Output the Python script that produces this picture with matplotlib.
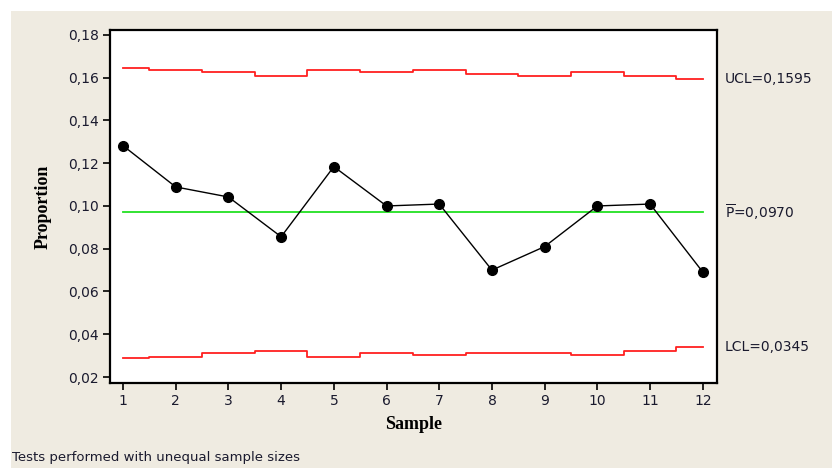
import matplotlib.pyplot as plt
import matplotlib.patches as mpatches
from matplotlib.ticker import FuncFormatter, MultipleLocator

samples = list(range(1, 13))
proportion = [0.1282, 0.1089, 0.1042, 0.0856, 0.1184, 0.1000,
              0.1009, 0.0700, 0.0810, 0.1000, 0.1009, 0.0691]
ucl = [0.1644, 0.1636, 0.1628, 0.1608, 0.1636, 0.1628,
       0.1636, 0.1618, 0.1608, 0.1628, 0.1608, 0.1593]
lcl = [0.0287, 0.0295, 0.0311, 0.0322, 0.0295, 0.0311,
       0.0303, 0.0313, 0.0313, 0.0303, 0.0323, 0.0339]
p_bar = 0.0970
ucl_label = "UCL=0,1595"
lcl_label = "LCL=0,0345"
p_label = r"$\overline{\mathrm{P}}$=0,0970"

bg = "#efebe1"
fig = plt.figure(figsize=(8.32, 4.68), dpi=100, facecolor="white")
fig.patches.append(mpatches.Rectangle((11 / 832, 0), 1, 1 - 11 / 468,
                                      transform=fig.transFigure,
                                      facecolor=bg, edgecolor="none", zorder=-10))

ax = fig.add_axes([110 / 832, 1 - 383 / 468, 607 / 832, 353 / 468])
ax.set_facecolor("white")

ax.plot(samples, ucl, color="#ff2020", lw=1.3, drawstyle="steps-mid")
ax.plot(samples, lcl, color="#ff2020", lw=1.3, drawstyle="steps-mid")
ax.plot([samples[0], samples[-1]], [p_bar, p_bar], color="#22e022", lw=1.3)
ax.plot(samples, proportion, color="black", lw=1, marker="o", ms=7)

ax.set_xlim(0.753, 12.27)
ax.set_ylim(0.0172, 0.1823)
ax.set_xticks(samples)
ax.yaxis.set_major_locator(MultipleLocator(0.02))
ax.yaxis.set_major_formatter(FuncFormatter(lambda v, p: f"{v:.2f}".replace(".", ",")))

for s in ax.spines.values():
    s.set_linewidth(1.6)
ax.tick_params(direction="out", length=5, width=1.2, labelsize=10,
               labelcolor="#1a1a2e", pad=3)

ax.set_xlabel("Sample", family="Liberation Serif", fontweight="bold", fontsize=13, labelpad=6)
ax.set_ylabel("Proportion", family="Liberation Serif", fontweight="bold", fontsize=13, labelpad=12)

tx = 12.27 + 8 / 52.7
ax.text(tx, ucl[-1], ucl_label, va="center", ha="left", fontsize=10, color="#1a1a2e", clip_on=False)
ax.text(tx, p_bar, p_label, va="center", ha="left", fontsize=10, color="#1a1a2e", clip_on=False)
ax.text(tx, lcl[-1], lcl_label, va="center", ha="left", fontsize=10, color="#1a1a2e", clip_on=False)

fig.text(12 / 832, 1 - 458 / 468, "Tests performed with unequal sample sizes",
         fontsize=9.5, va="center", ha="left", color="#1a1a2e")

fig.savefig("out.png", dpi=100, facecolor=fig.get_facecolor())
